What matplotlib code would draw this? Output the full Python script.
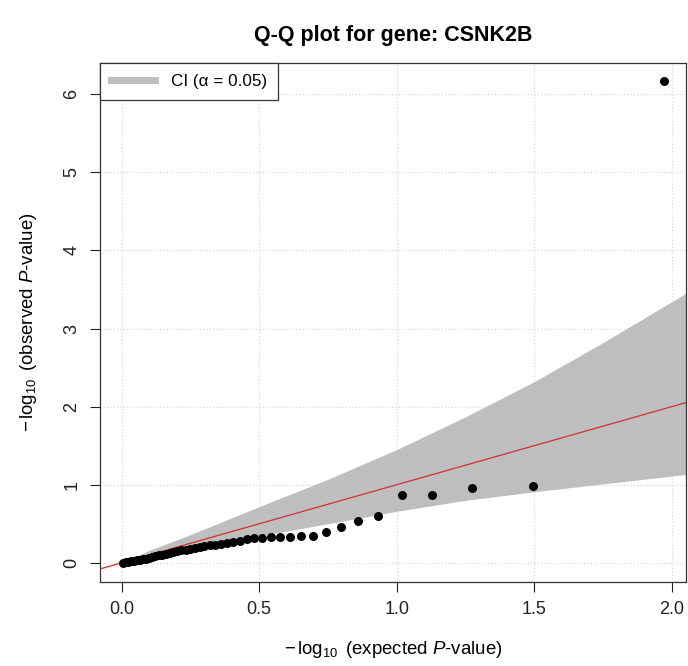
import numpy as np
import matplotlib
matplotlib.use("Agg")
import matplotlib.pyplot as plt
from matplotlib.lines import Line2D

plt.rcParams['font.family'] = ['Liberation Sans', 'DejaVu Sans']
plt.rcParams['mathtext.fontset'] = 'custom'
plt.rcParams['mathtext.rm'] = 'Liberation Sans'
plt.rcParams['mathtext.it'] = 'Liberation Sans:italic'

# expected -log10 p (x) and observed -log10 p (y)
expected = [1.973, 1.496, 1.274, 1.128, 1.019, 0.932, 0.859, 0.797, 0.743, 0.694,
            0.651, 0.611, 0.575, 0.542, 0.511, 0.482, 0.455, 0.429, 0.405, 0.382,
            0.360, 0.340, 0.320, 0.301, 0.283, 0.266, 0.249, 0.233, 0.217, 0.202,
            0.188, 0.174, 0.160, 0.147, 0.134, 0.122, 0.110, 0.098, 0.087, 0.076,
            0.065, 0.054, 0.044, 0.034, 0.024, 0.014, 0.005]
observed = [6.17, 0.98, 0.96, 0.866, 0.866, 0.595, 0.539, 0.462, 0.391, 0.348,
            0.344, 0.333, 0.333, 0.329, 0.322, 0.316, 0.308, 0.285, 0.27, 0.258,
            0.245, 0.232, 0.222, 0.21, 0.20, 0.19, 0.178, 0.17, 0.162, 0.152,
            0.14, 0.128, 0.118, 0.105, 0.095, 0.085, 0.072, 0.063, 0.055, 0.048,
            0.04, 0.033, 0.027, 0.02, 0.014, 0.008, 0.003]

# confidence band edges
band_x = [0.0, 0.05, 0.1, 0.25, 0.5, 0.75, 1.0, 1.25, 1.5, 1.75, 2.06]
band_hi = [0.0, 0.08, 0.16, 0.36, 0.72, 1.07, 1.45, 1.87, 2.32, 2.82, 3.47]
band_lo = [0.0, 0.02, 0.045, 0.155, 0.345, 0.50, 0.66, 0.80, 0.91, 1.01, 1.135]

xticks = [0.0, 0.5, 1.0, 1.5, 2.0]
yticks = [0, 1, 2, 3, 4, 5, 6]

fig = plt.figure(figsize=(6.88, 6.66), dpi=100)
ax = fig.add_axes([0.1453, 0.1261, 0.852, 0.7793])

ax.set_xlim(-0.079, 2.052)
ax.set_ylim(-0.246, 6.4)

ax.grid(True, color='#d8d8d8', linestyle=':', linewidth=0.9)
ax.set_axisbelow(True)

ax.fill_between(band_x, band_lo, band_hi, color='#bebebe', linewidth=0, zorder=2)
ax.axline((0, 0), slope=1, color='#cc3333', linewidth=0.9, zorder=3)
ax.scatter(expected, observed, s=42, color='black', zorder=4, linewidths=0)

ax.set_xticks(xticks)
ax.set_xticklabels(['%.1f' % v for v in xticks])
ax.set_yticks(yticks)
ax.set_yticklabels([str(v) for v in yticks], rotation=90, va='center')
ax.tick_params(direction='out', length=7, width=0.8, labelsize=13, pad=7,
               colors='#222222')
for sp in ax.spines.values():
    sp.set_color('#333333')
    sp.set_linewidth(0.9)

xc = 0.1453 + 0.852 / 2
fig.text(xc, 1 - 650 / 666, r'$-\,\log_{10}$ (expected $P$-value)',
         fontsize=13.4, ha='center', va='center')
ax.set_ylabel(r'$-\,\log_{10}$ (observed $P$-value)', fontsize=13.4, labelpad=18)

ax.set_title('Q-Q plot for gene: CSNK2B', fontsize=15.5, fontweight='bold', pad=16)

handle = Line2D([], [], color='#bebebe', linewidth=5)
leg = ax.legend([handle], ['CI (\u03b1 = 0.05)'], loc='upper left',
                borderaxespad=0, fancybox=False, framealpha=1,
                edgecolor='#333333', fontsize=12.3, handlelength=2.6,
                borderpad=0.65, handletextpad=0.9)
leg.get_frame().set_linewidth(0.9)

fig.savefig('out.png', dpi=100)
